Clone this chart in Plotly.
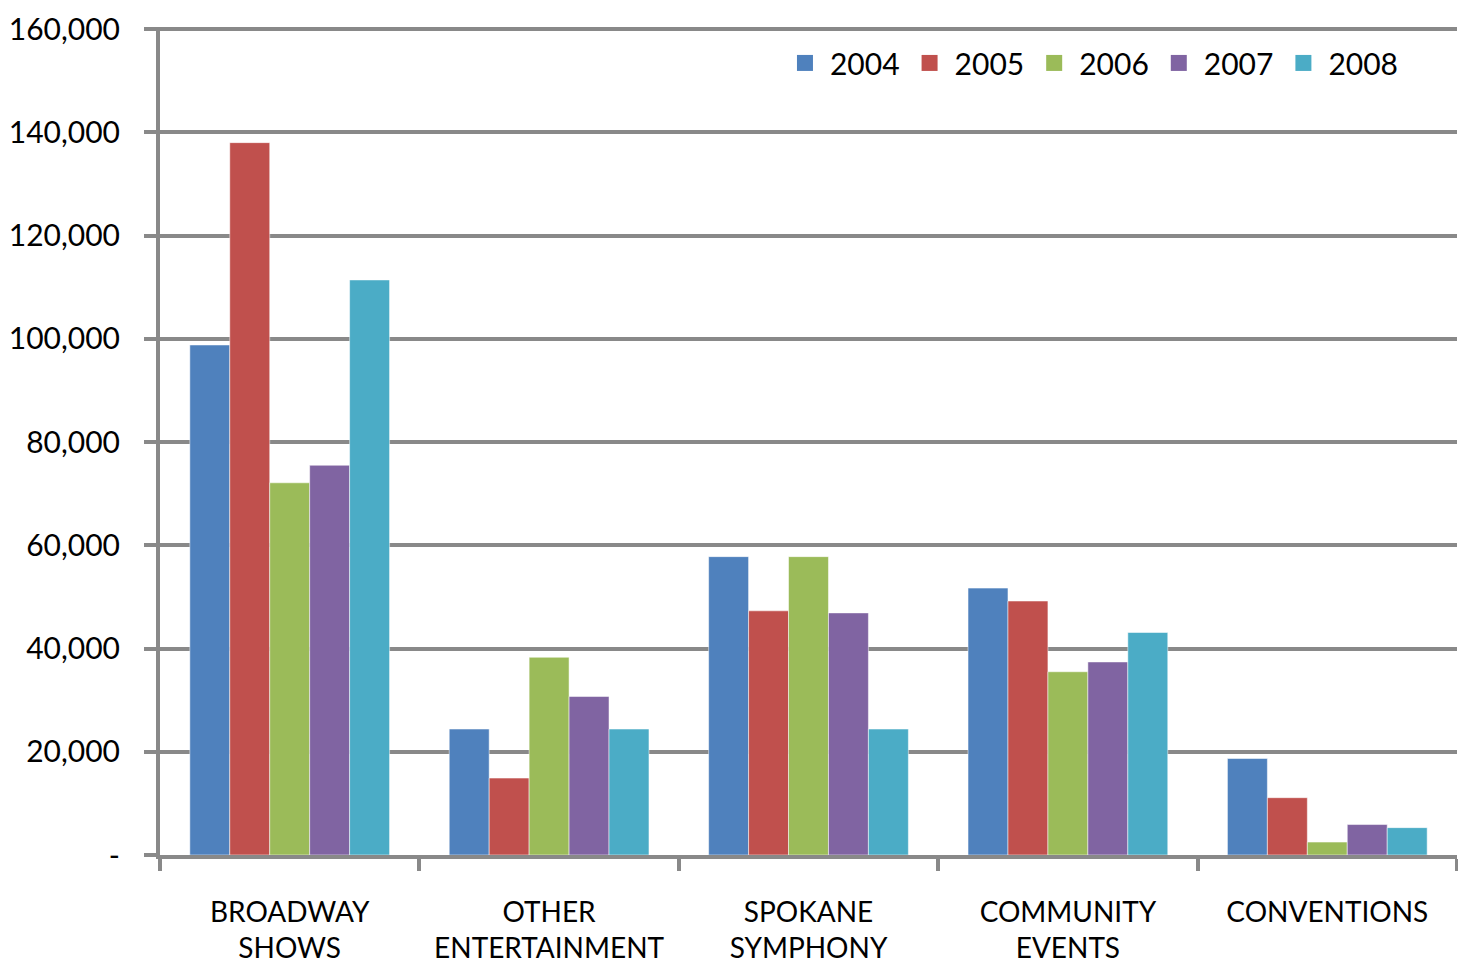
import plotly.graph_objects as go

categories = ["BROADWAY<br>SHOWS", "OTHER<br>ENTERTAINMENT", "SPOKANE<br>SYMPHONY", "COMMUNITY<br>EVENTS", "CONVENTIONS"]
years = ["2004", "2005", "2006", "2007", "2008"]
values = {
    "2004": [98800, 24400, 57800, 51700, 18700],
    "2005": [138000, 14900, 47300, 49200, 11100],
    "2006": [72100, 38300, 57800, 35500, 2500],
    "2007": [75500, 30700, 46900, 37400, 5900],
    "2008": [111400, 24400, 24400, 43100, 5300],
}
colors = ["#4F81BD", "#C0504D", "#9BBB59", "#8064A2", "#4BACC6"]
ytickvals = [0, 20000, 40000, 60000, 80000, 100000, 120000, 140000, 160000]
yticktext = ["-", "20,000", "40,000", "60,000", "80,000", "100,000", "120,000", "140,000", "160,000"]

grid = "#898989"
font = "Lato, 'Open Sans', sans-serif"

fig = go.Figure()
for y, c in zip(years, colors):
    fig.add_trace(go.Bar(
        x=categories, y=values[y], name=y, showlegend=False,
        marker=dict(color=c, line=dict(color="rgba(255,255,255,0.5)", width=1)),
    ))
# legend entries with larger square swatches
for y, c in zip(years, colors):
    fig.add_trace(go.Scatter(
        x=[None], y=[None], mode="markers", name=y,
        marker=dict(symbol="square", size=17, color=c),
    ))

fig.update_layout(
    width=1458, height=959,
    margin=dict(l=152, r=9, t=19, b=112),
    paper_bgcolor="white", plot_bgcolor="white",
    barmode="group", bargap=0.23, bargroupgap=0,
    font=dict(family=font, size=28, color="black"),
    legend=dict(
        orientation="h", x=0.478, xanchor="left", y=0.988, yanchor="top",
        font=dict(size=30), itemwidth=40, tracegroupgap=0, itemsizing="trace",
        bgcolor="rgba(0,0,0,0)",
    ),
    showlegend=True,
)
fig.update_yaxes(
    range=[0, 160400], tickvals=ytickvals, ticktext=yticktext,
    showgrid=True, gridcolor=grid, gridwidth=4,
    showline=True, linecolor=grid, linewidth=4,
    ticks="outside", ticklen=12, tickwidth=4, tickcolor=grid,
    zeroline=False, tickfont=dict(size=30, color="black"),
    automargin=False, ticklabelstandoff=18, ticklabeloverflow="allow",
)
fig.update_xaxes(
    showline=True, linecolor=grid, linewidth=4,
    ticks="outside", ticklen=12, tickwidth=4, tickcolor=grid,
    tickson="boundaries", showgrid=False,
    tickfont=dict(size=28, color="black"),
    automargin=False, ticklabelstandoff=29, ticklabeloverflow="allow",
)

fig.write_html("out.html")
